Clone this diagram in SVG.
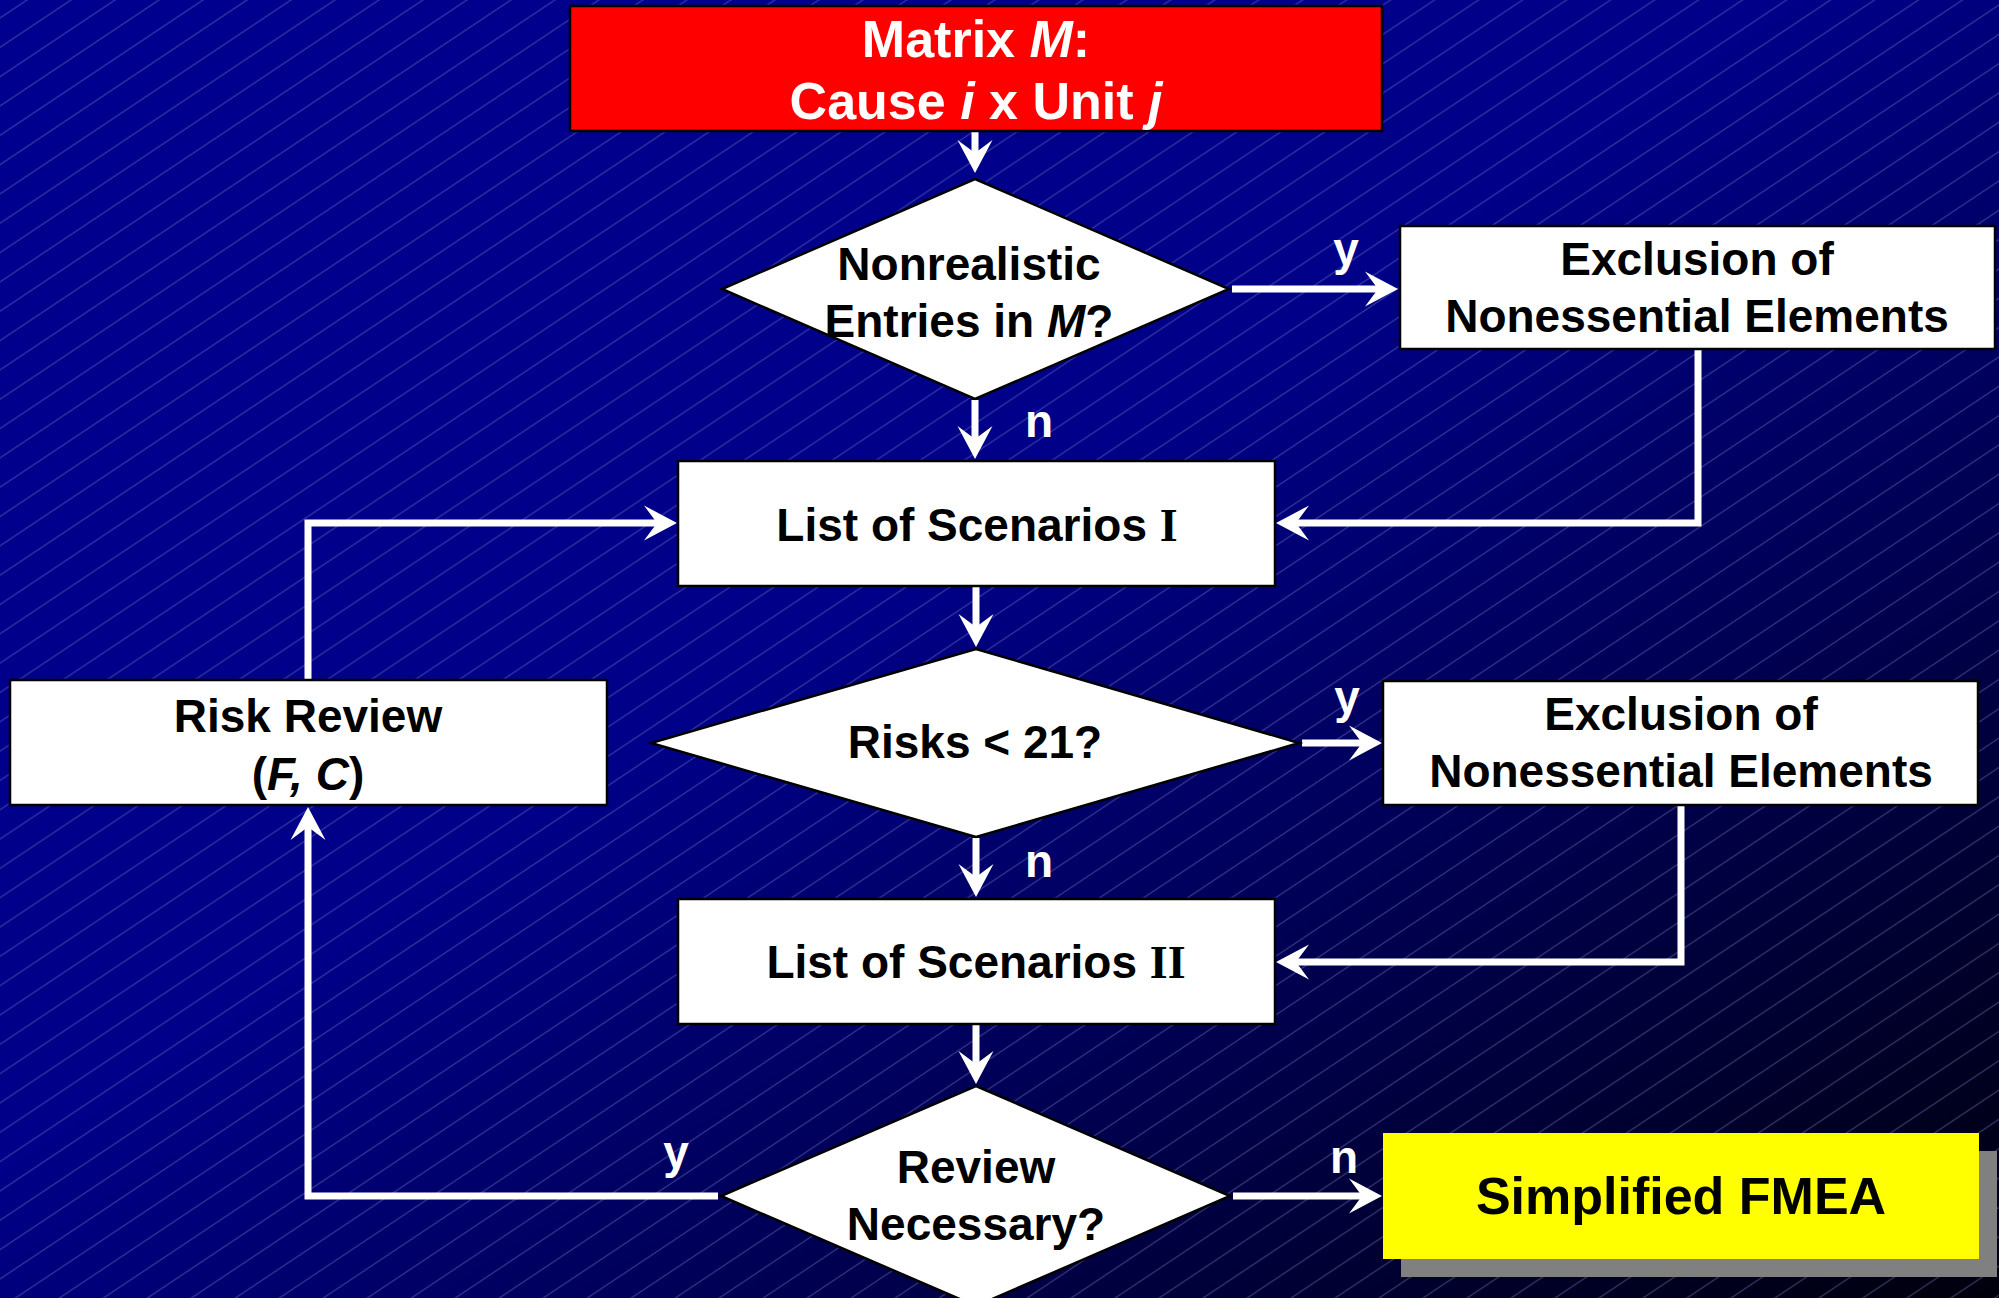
<svg xmlns="http://www.w3.org/2000/svg" width="1999" height="1298" viewBox="0 0 1999 1298">
  <defs>
    <linearGradient id="bg" x1="0" y1="0" x2="1" y2="1">
      <stop offset="0" stop-color="#00008f"/>
      <stop offset="0.45" stop-color="#000088"/>
      <stop offset="1" stop-color="#00000c"/>
    </linearGradient>
    <pattern id="stripes" patternUnits="userSpaceOnUse" width="200" height="24.4" patternTransform="rotate(-33.69)">
      <line x1="0" y1="15" x2="200" y2="15" stroke="#8a8ad0" stroke-width="1" stroke-opacity="0.4"/>
    </pattern>
    <marker id="arrow" markerUnits="userSpaceOnUse" viewBox="-36 -20 56 40" markerWidth="56" markerHeight="40" refX="-18" refY="0" orient="auto">
      <path d="M0,0 L-33,-17.5 L-20,0 L-33,17.5 Z" fill="#ffffff"/>
    </marker>
    <style>
      .box { fill: #ffffff; stroke: #000000; stroke-width: 2.5; }
      .dia { fill: #ffffff; stroke: #000000; stroke-width: 2.5; }
      .t { font-family: "Liberation Sans", Arial, sans-serif; font-weight: bold; font-size: 46px; fill: #000000; text-anchor: middle; }
      .lbl { font-family: "Liberation Sans", Arial, sans-serif; font-weight: bold; font-size: 46px; fill: #ffffff; text-anchor: middle; }
      .serif { font-family: "Liberation Serif", "Times New Roman", serif; font-weight: bold; }
      .conn { fill: none; stroke: #ffffff; stroke-width: 7; marker-end: url(#arrow); }
    </style>
  </defs>

  <rect x="0" y="0" width="1999" height="1298" fill="url(#bg)"/>
  <rect x="0" y="0" width="1999" height="1298" fill="url(#stripes)"/>

  <g id="connectors">
    <path class="conn" d="M975,131 L975,155"/>
    <path class="conn" d="M1232,289 L1380,289"/>
    <path class="conn" d="M975,400 L975,441"/>
    <path class="conn" d="M1698,349 L1698,523 L1294,523"/>
    <path class="conn" d="M308,680 L308,523 L659,523"/>
    <path class="conn" d="M976,586 L976,629"/>
    <path class="conn" d="M1302,743 L1364,743"/>
    <path class="conn" d="M976,838 L976,879"/>
    <path class="conn" d="M1681,805 L1681,962 L1294,962"/>
    <path class="conn" d="M976,1024 L976,1066"/>
    <path class="conn" d="M1233,1196 L1364,1196"/>
    <path class="conn" d="M718,1196 L308,1196 L308,825"/>
  </g>

  <g id="labels">
    <text class="lbl" x="1346" y="265">y</text>
    <text class="lbl" x="1039" y="437">n</text>
    <text class="lbl" x="1347" y="713">y</text>
    <text class="lbl" x="1039" y="877">n</text>
    <text class="lbl" x="1344" y="1173">n</text>
    <text class="lbl" x="676" y="1168">y</text>
  </g>

  <g id="matrix">
    <rect x="570" y="6" width="812" height="125" fill="#ff0000" stroke="#000000" stroke-width="2.5"/>
    <text class="t" x="976" y="57" style="fill:#ffffff;font-size:52px">Matrix <tspan font-style="italic">M</tspan>:</text>
    <text class="t" x="976" y="119" style="fill:#ffffff;font-size:52px">Cause <tspan font-style="italic">i</tspan> x Unit <tspan font-style="italic">j</tspan></text>
  </g>

  <g id="dec-nonrealistic">
    <polygon class="dia" points="975,179 1229,289 975,399 722,289"/>
    <text class="t" x="969" y="280">Nonrealistic</text>
    <text class="t" x="969" y="337">Entries in <tspan font-style="italic">M</tspan>?</text>
  </g>

  <g id="exclusion-1">
    <rect class="box" x="1400" y="226" width="595" height="123"/>
    <text class="t" x="1697" y="275">Exclusion of</text>
    <text class="t" x="1697" y="332">Nonessential Elements</text>
  </g>

  <g id="scenarios-1">
    <rect class="box" x="678" y="461" width="597" height="125"/>
    <text class="t" x="977" y="541">List of Scenarios <tspan class="serif">I</tspan></text>
  </g>

  <g id="risk-review">
    <rect class="box" x="10" y="680" width="597" height="125"/>
    <text class="t" x="308" y="732">Risk Review</text>
    <text class="t" x="308" y="790">(<tspan font-style="italic">F, C</tspan>)</text>
  </g>

  <g id="dec-risks">
    <polygon class="dia" points="976,649 1299,743 976,837 651,743"/>
    <text class="t" x="975" y="758">Risks &lt; 21?</text>
  </g>

  <g id="exclusion-2">
    <rect class="box" x="1383" y="681" width="595" height="124"/>
    <text class="t" x="1681" y="730">Exclusion of</text>
    <text class="t" x="1681" y="787">Nonessential Elements</text>
  </g>

  <g id="scenarios-2">
    <rect class="box" x="678" y="899" width="597" height="125"/>
    <text class="t" x="976" y="978">List of Scenarios <tspan class="serif">II</tspan></text>
  </g>

  <g id="dec-review">
    <polygon class="dia" points="976,1086 1230,1196 976,1306 721,1196"/>
    <text class="t" x="976" y="1183">Review</text>
    <text class="t" x="976" y="1240">Necessary?</text>
  </g>

  <g id="simplified-fmea">
    <rect x="1401" y="1151" width="596" height="126" fill="#808080"/>
    <rect x="1383" y="1133" width="596" height="126" fill="#ffff00"/>
    <text class="t" x="1681" y="1214" style="font-size:52px">Simplified FMEA</text>
  </g>
</svg>
